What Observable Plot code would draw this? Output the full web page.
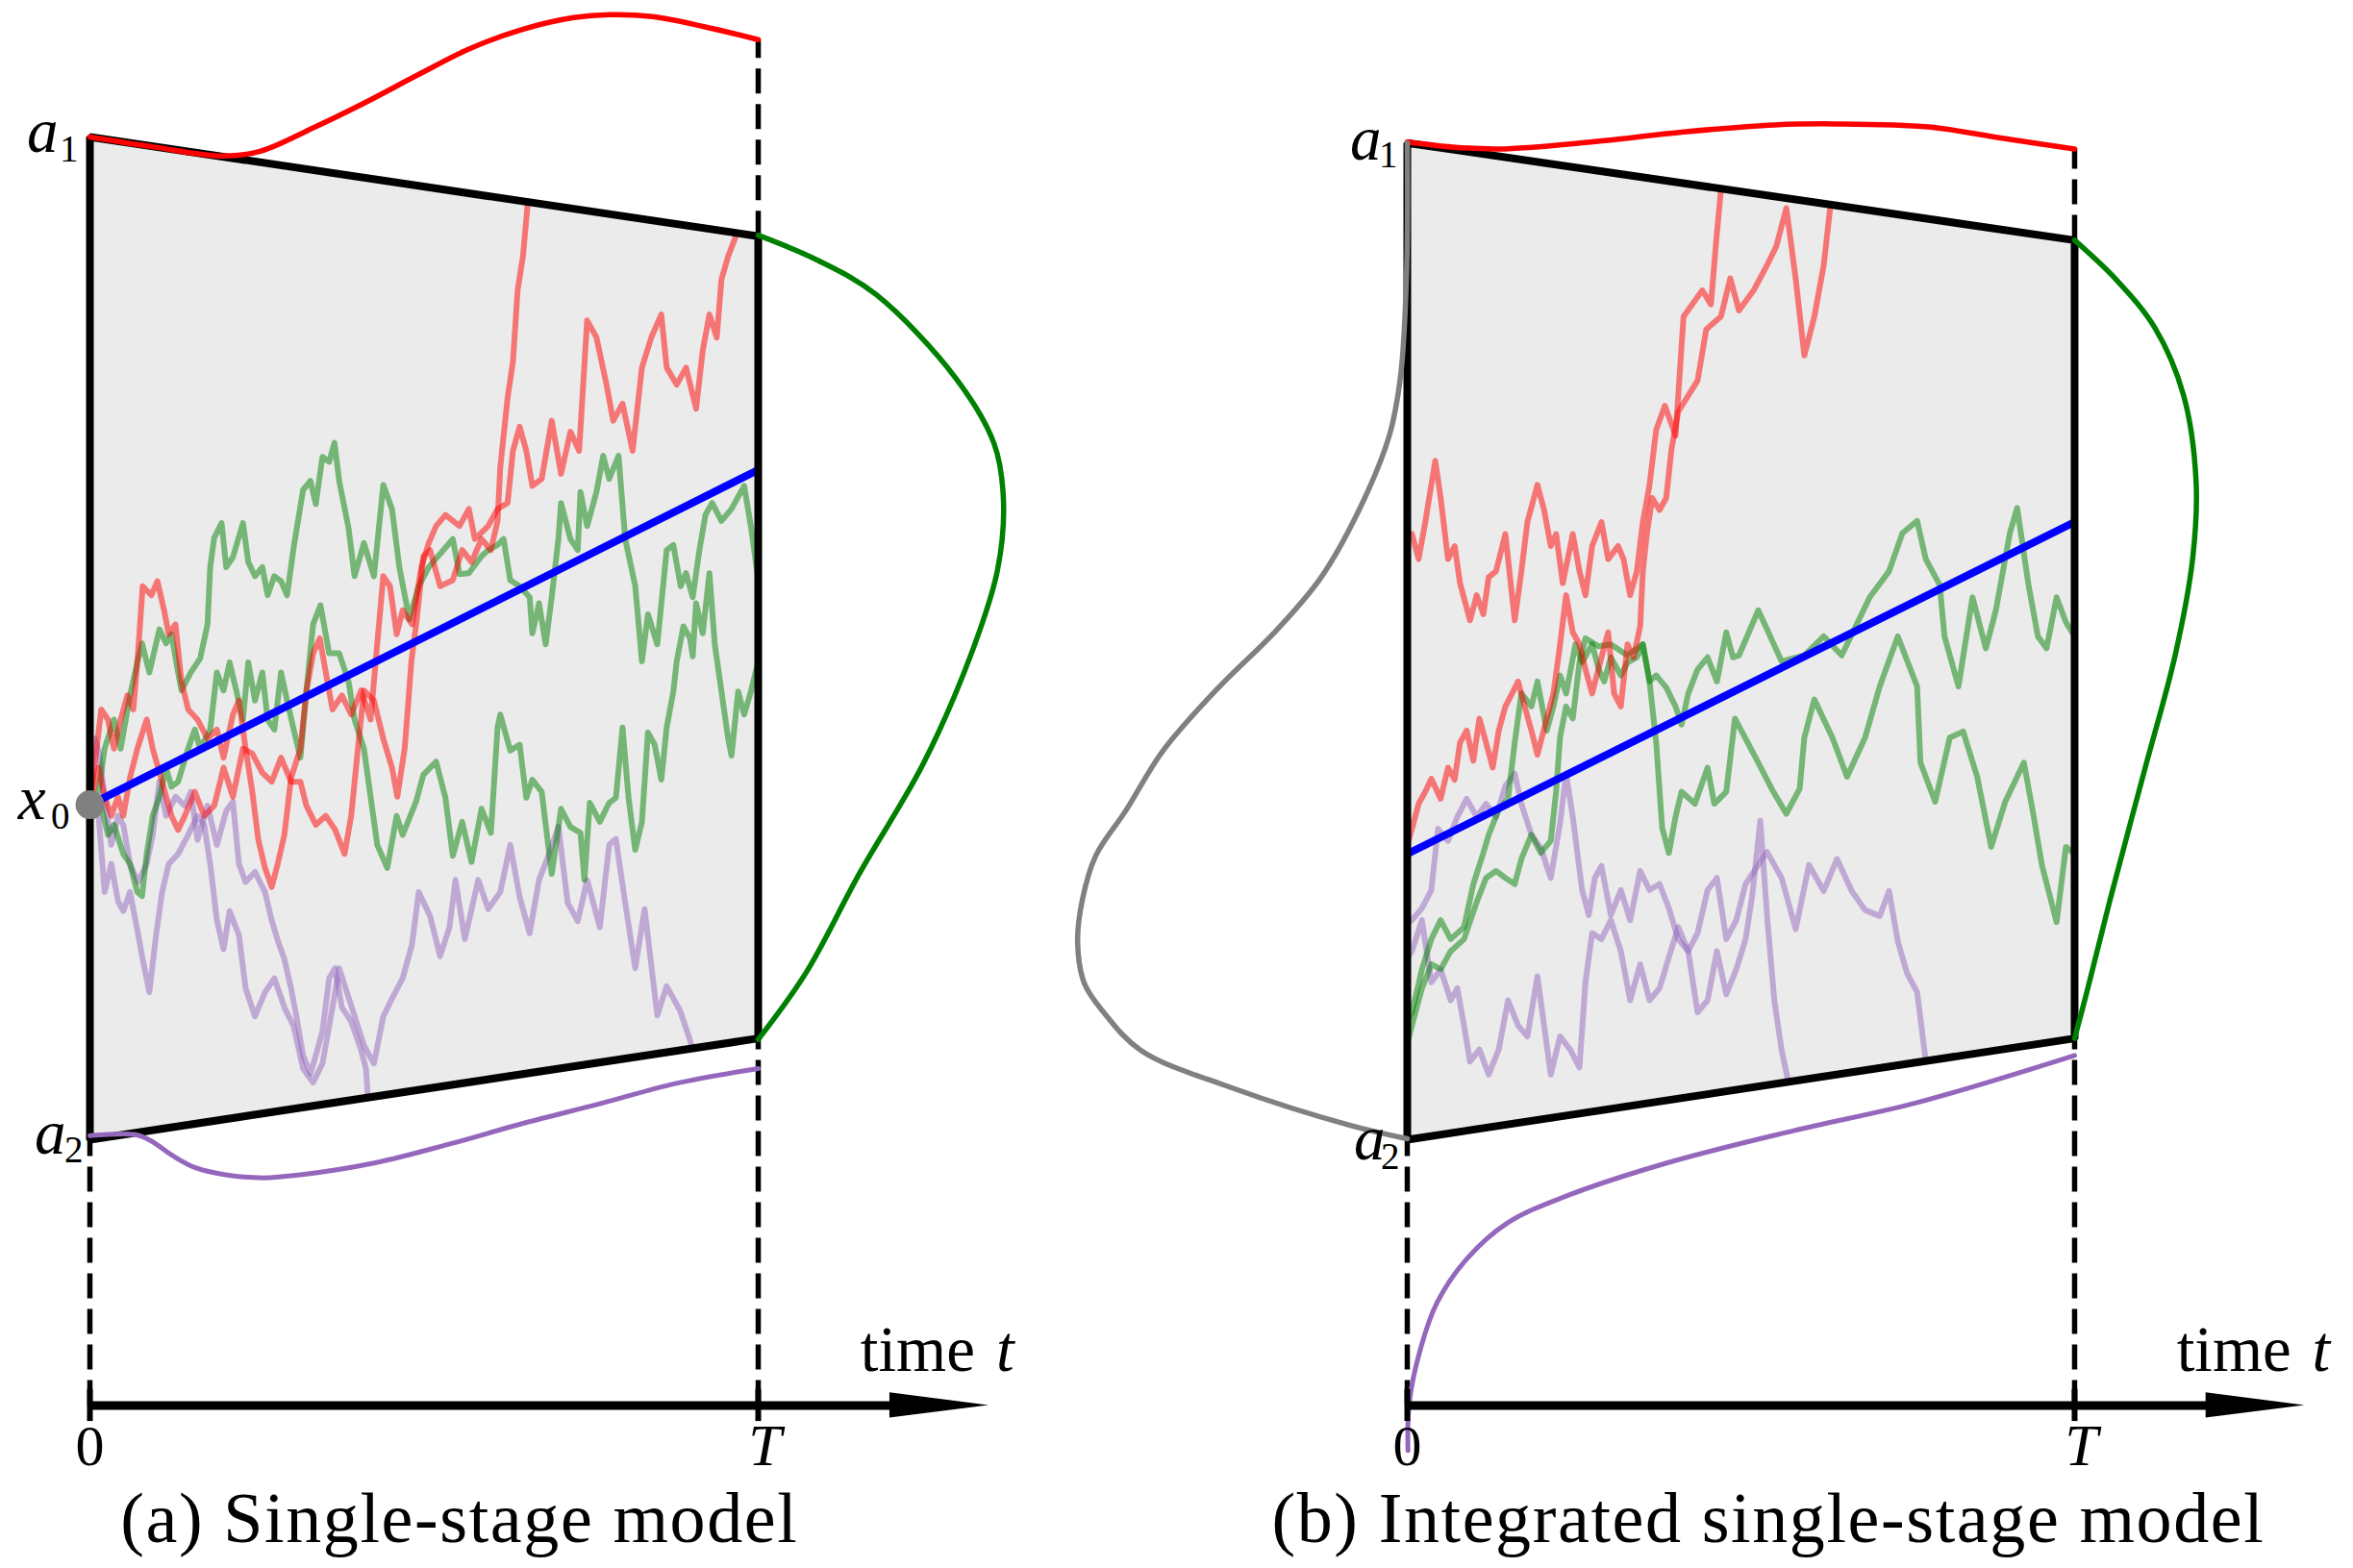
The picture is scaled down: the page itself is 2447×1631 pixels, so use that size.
<!DOCTYPE html>
<html>
<head>
<meta charset="utf-8">
<script src="https://cdn.jsdelivr.net/npm/d3@7"></script>
<script src="https://cdn.jsdelivr.net/npm/@observablehq/plot@0.6"></script>
<style>
  html, body { margin: 0; padding: 0; background: #ffffff; }
  #row { display: flex; width: 2447px; height: 1631px; }
  #row svg { display: block; }
</style>
</head>
<body>
<div id="row"></div>
<script>
// ---------- shared values (time t in % of T, value v in % of a1-a2 span) ----------
const timeTicks = [0, 100];
const timeTickLabels = ["0", "T"];
const axisLevel = -26.5;
const arrowBase = 119.7;
const arrowTip = 134.5;
const tickLabelLevel = -32.5;
const timeLabelLevel = -23.1;
const timeWord = "time";
const timeVar = "t";
const timeWordStart = 115.3;
const timeVarStart = 135.6;
const captionLevel = -40.1;
const captions = ["(a) Single-stage model", "(b) Integrated single-stage model"];
const captionCenters = [55.3, 54.1];

// ---------- panel (a): single-stage model ----------
const boundsA = [{t: 0, lower: 0, upper: 100}, {t: 100, lower: 10.1, upper: 90.1}];
const startA = [{t: 0, v: 33.4}];
const meanA = [[0, 33.4], [100, 66.8]];
const labelsA = [
  {t: 0, v: 100, base: "a", sub: "1"},
  {t: 0, v: 33.4, base: "x", sub: "0"},
  {t: 0, v: 0, base: "a", sub: "2"}
];
const upperExitA = [[0,100.0],[9.6,99.0],[20.1,98.1],[25.6,98.6],[33.4,100.9],[41.1,103.4],[49.1,106.2],[56.8,108.8],[64.6,110.7],[72.4,111.9],[77.8,112.2],[84.2,112.0],[91.9,111.0],[100,109.7]];
const terminalA = [[100,90.2],[108.9,87.7],[117.6,84.3],[129.5,76.0],[135.3,69.4],[136.7,63.7],[135.8,56.8],[131.9,48.5],[124.7,37.5],[115.1,26.5],[107.1,16.6],[100,10.0]];
const lowerExitA = [[0,0.4],[6.8,0.5],[9.1,-0.1],[12.4,-1.6],[15.8,-2.8],[20.3,-3.5],[25.9,-3.8],[31.5,-3.5],[42.7,-2.3],[54.0,-0.4],[65.2,1.7],[76.4,3.6],[87.6,5.6],[100,7.1]];

const redA1 = [[0,33.4],[1.3,37.1],[2.2,34.2],[3.2,32.3],[4.2,34.2],[5.0,32.3],[6.0,36.1],[7.1,39.0],[8.5,41.9],[9.4,39.0],[10.8,35.7],[12.2,32.3],[13.2,30.9],[14.2,32.3],[15.7,34.7],[17.1,32.3],[18.6,33.3],[20.0,37.1],[21.4,34.2],[22.9,39.0],[24.3,38.5],[25.8,36.6],[27.2,35.7],[28.6,38.1],[30.1,35.7],[31.5,35.7],[32.4,33.3],[33.8,31.4],[35.3,32.3],[36.7,30.9],[38.1,28.5],[39.1,32.3],[40.1,39.0],[41.0,44.8],[42.5,43.8],[43.9,40.0],[45.2,37.1],[46.0,34.2],[47.1,39.0],[47.5,42.4],[48.1,47.7],[48.9,51.8],[49.9,58.2],[50.9,58.8],[52.4,55.2],[54.3,55.8],[55.7,58.8],[57.1,57.6],[58.6,59.9],[60.0,58.8],[61.0,61.7],[61.4,67.0],[62.5,74.0],[63.3,77.6],[64.0,84.7],[64.8,88.1],[65.5,93.3]];
const redA2 = [[0,33.4],[1.0,39.0],[1.7,42.9],[2.7,41.9],[3.6,39.0],[4.6,41.9],[5.6,44.3],[6.5,42.9],[7.2,48.5],[7.9,55.2],[9.2,54.3],[10.1,55.7],[11.1,52.8],[11.8,50.4],[12.8,51.4],[13.7,45.7],[14.7,42.9],[16.1,41.9],[17.6,40.0],[19.0,40.9],[20.0,38.1],[21.4,42.4],[22.3,43.8],[23.3,39.0],[24.3,34.7],[25.2,29.9],[26.2,27.1],[27.2,25.2],[28.1,27.5],[29.1,30.4],[30.1,36.1],[31.5,39.0],[32.4,44.8],[33.4,48.5],[34.4,50.0],[35.3,46.6],[36.3,42.9],[37.7,44.3],[39.1,42.4],[40.6,44.8],[42.0,41.9],[43.0,49.5],[43.9,56.2],[44.9,55.2],[45.9,50.4],[46.8,52.8],[48.2,51.4],[49.6,57.1],[50.7,59.5],[51.8,61.2],[53.2,62.3],[55.3,61.2],[56.7,62.9],[57.6,59.9],[59.6,61.2],[61.0,62.9],[62.5,63.5],[63.3,68.7],[64.3,71.1],[65.3,68.7],[66.2,65.2],[67.6,65.9],[69.1,71.7],[70.5,66.4],[71.9,70.6],[73.2,68.7],[74.4,81.7],[75.8,80.0],[77.3,75.3],[78.3,71.7],[79.7,73.4],[81.2,68.7],[82.6,77.0],[84.0,80.0],[85.5,82.3],[86.3,77.0],[87.8,75.3],[89.2,77.0],[90.7,72.9],[91.7,78.7],[92.7,82.3],[93.8,80.0],[94.5,85.8],[95.5,88.1],[96.7,90.2]];
const greenA1 = [[0,33.4],[1.3,34.7],[2.2,39.0],[3.6,41.9],[4.6,39.0],[6.0,44.3],[7.1,47.6],[7.8,49.5],[8.9,46.6],[10.4,50.9],[11.4,49.5],[12.2,50.4],[13.2,46.6],[13.7,44.8],[15.1,46.6],[16.5,48.0],[17.6,51.4],[18.0,57.1],[18.6,60.0],[19.7,61.5],[20.4,57.1],[21.4,58.1],[22.9,61.5],[23.7,57.6],[24.7,56.2],[25.8,57.1],[26.6,54.3],[27.6,56.2],[28.6,55.7],[29.5,54.3],[30.5,59.1],[31.9,64.8],[33.0,65.7],[33.8,63.4],[34.8,68.1],[35.8,67.6],[36.6,69.5],[37.3,65.7],[38.7,61.0],[39.6,56.2],[41.0,59.5],[42.5,56.2],[43.9,65.3],[45.2,62.9],[46.3,57.1],[47.8,51.9],[49.2,55.2],[50.7,57.1],[54.3,59.9],[55.3,56.4],[56.7,56.5],[58.6,58.2],[59.6,58.8],[61.0,59.3],[61.9,59.9],[62.9,55.8],[64.3,55.2],[65.8,54.1],[66.2,50.5],[67.2,53.5],[68.2,49.4],[69.1,54.1],[70.1,59.9],[70.5,63.5],[71.9,59.9],[73.0,58.8],[73.4,64.6],[74.4,61.2],[75.8,64.6],[76.8,68.2],[77.7,65.9],[79.1,68.2],[80.1,59.9],[81.6,55.2],[82.6,47.7],[83.5,52.4],[84.9,49.4],[86.3,58.8],[87.3,59.3],[88.4,55.2],[89.2,56.5],[90.2,54.1],[91.2,58.8],[92.1,62.3],[93.1,63.5],[94.5,61.7],[96.0,62.9],[97.9,65.2],[98.9,61.2],[100,55.8]];
const greenA2 = [[0,33.4],[0.7,32.3],[1.7,33.3],[2.7,30.4],[3.6,31.4],[5.0,28.5],[6.0,27.5],[7.1,24.7],[7.8,24.3],[8.5,28.5],[9.4,32.3],[10.4,34.2],[11.4,37.1],[12.2,35.2],[13.2,35.7],[14.7,39.0],[15.7,40.9],[16.5,39.0],[18.0,40.9],[19.0,46.6],[20.0,44.8],[20.9,47.6],[21.9,44.8],[22.9,41.9],[23.7,47.6],[24.7,43.8],[25.8,46.6],[26.6,41.9],[27.6,40.9],[28.6,46.6],[29.5,43.8],[30.5,40.9],[31.5,38.1],[32.4,44.8],[33.4,51.4],[34.5,53.3],[35.8,48.5],[37.3,48.5],[38.7,45.7],[39.6,41.9],[41.0,39.0],[42.0,34.2],[43.0,29.4],[44.5,27.1],[45.9,32.3],[46.8,30.4],[48.8,33.7],[49.9,36.4],[51.8,37.7],[53.2,34.1],[54.3,28.3],[55.7,31.7],[57.1,27.7],[58.6,33.0],[60.0,30.6],[61.0,41.1],[61.4,42.4],[62.9,38.8],[64.3,39.4],[65.3,34.1],[66.2,35.9],[67.6,34.7],[69.1,26.5],[70.5,33.0],[71.9,31.2],[73.4,30.6],[74.0,25.9],[74.8,33.6],[76.3,31.7],[77.7,33.6],[78.7,34.1],[79.7,41.1],[80.6,34.1],[81.6,28.9],[82.6,31.7],[83.5,40.6],[84.5,39.4],[85.5,35.9],[86.3,41.1],[87.3,44.7],[87.8,47.7],[88.8,51.2],[89.8,50.0],[90.2,48.2],[90.7,53.5],[91.7,50.5],[92.7,56.5],[93.5,49.4],[94.5,44.7],[95.5,40.0],[96.0,38.3],[97.0,44.7],[97.9,42.4],[98.9,44.7],[100,47.7]];
const purpleA1 = [[0,33.4],[0.7,40.0],[1.4,38.5],[2.2,34.2],[3.2,29.4],[4.2,32.3],[5.0,31.4],[6.0,27.5],[7.2,25.7],[8.5,27.5],[9.4,30.4],[10.4,35.7],[11.4,32.3],[12.8,34.2],[14.2,33.3],[15.1,34.7],[16.1,29.9],[17.6,33.3],[19.0,29.4],[20.4,32.8],[21.4,33.7],[22.3,27.5],[23.3,25.7],[24.7,26.7],[26.2,24.7],[27.2,21.9],[28.1,19.9],[29.1,18.0],[30.1,15.1],[30.9,12.3],[31.9,8.4],[33.0,6.6],[33.8,8.4],[34.8,10.8],[35.8,16.1],[36.7,17.1],[37.7,13.2],[39.1,11.8],[40.6,8.9],[41.3,7.1],[41.6,4.2]];
const purpleA2 = [[0,33.4],[1.3,32.3],[2.2,24.7],[3.2,27.5],[4.2,23.8],[5.0,22.8],[6.0,24.7],[7.1,20.9],[7.9,18.0],[8.9,14.7],[9.9,20.4],[10.8,24.7],[11.8,27.5],[13.2,28.5],[14.7,30.4],[16.1,32.3],[17.1,31.4],[18.0,27.5],[19.0,21.9],[20.0,19.0],[20.9,22.8],[22.3,20.4],[23.3,15.1],[24.7,12.3],[26.2,14.7],[27.6,16.1],[29.1,13.2],[30.5,11.3],[31.9,7.1],[33.4,5.7],[34.8,7.6],[36.3,13.2],[37.3,17.1],[38.7,14.2],[40.1,11.3],[41.0,9.4],[42.5,7.6],[43.9,12.3],[45.3,14.2],[46.8,16.1],[48.2,19.5],[49.2,24.7],[50.9,22.3],[52.4,18.3],[53.8,21.2],[54.7,25.9],[56.1,20.0],[58.1,25.9],[59.6,23.0],[61.4,24.7],[62.9,29.4],[64.3,24.2],[65.8,20.6],[67.2,25.9],[68.6,28.3],[70.1,31.2],[71.5,23.6],[73.0,21.8],[74.4,25.9],[76.3,21.2],[77.7,29.4],[78.7,30.0],[80.1,23.6],[81.6,17.1],[83.0,23.0],[84.9,12.4],[86.3,15.3],[88.3,12.9],[90.2,9.1]];

// ---------- panel (b): integrated single-stage model ----------
const boundsB = [{t: 0, lower: 0, upper: 99.4}, {t: 100, lower: 10.1, upper: 89.7}];
const meanB = [[0, 28.5], [100, 61.6]];
const labelsB = [
  {t: 0, v: 99.4, base: "a", sub: "1"},
  {t: 0, v: 0, base: "a", sub: "2"}
];
const upperExitB = [[0,99.5],[6.8,99.0],[13.7,98.8],[27.5,99.5],[41.4,100.5],[55.0,101.2],[64.3,101.3],[78.1,101.0],[88.9,99.9],[100,98.8]];
const terminalB = [[100,89.7],[106.2,85.8],[112.0,81.0],[116.3,74.3],[118.2,65.7],[117.7,58.0],[115.1,48.4],[110.5,36.9],[105.5,24.4],[101.9,14.9],[100,10.1]];
const lowerExitB = [[0.1,-31.0],[0.3,-26.2],[2.0,-20.8],[4.5,-16.2],[8.9,-11.9],[15.0,-8.3],[23.9,-5.6],[39.0,-2.3],[57.9,0.9],[76.4,3.7],[100,8.4]];
const initialB = [[0,99.4],[-0.1,86.5],[-1.0,76.2],[-2.7,70.2],[-7.3,62.7],[-13.0,56.0],[-19.6,50.8],[-28.7,44.8],[-36.6,38.8],[-42.2,32.8],[-46.7,28.3],[-48.7,23.9],[-49.4,19.7],[-48.4,15.6],[-45.5,12.7],[-39.9,8.9],[-26.4,5.2],[-8.4,1.4],[0,0.1]];

const redB1 = [[0,59.9],[0.7,60.4],[1.7,57.9],[2.7,61.6],[3.6,65.3],[4.2,67.7],[5.0,64.0],[6.1,57.9],[7.1,59.2],[7.9,55.5],[9.4,51.8],[10.4,54.3],[11.4,52.4],[12.2,56.1],[13.3,56.7],[14.7,60.4],[16.1,51.8],[17.1,56.7],[18.0,61.6],[19.5,65.3],[20.5,62.8],[21.5,59.2],[22.3,60.4],[23.3,55.5],[24.8,60.4],[25.8,56.7],[26.7,54.3],[27.7,59.2],[29.1,61.6],[30.1,57.9],[31.6,59.2],[32.4,57.9],[33.4,54.3],[34.4,56.7],[35.3,61.6],[36.3,65.3],[37.3,70.8],[38.6,73.2],[40.2,70.2],[41.4,82.1],[44.2,84.7],[45.5,83.3],[46.3,89.7],[47.0,94.7]];
const redB2 = [[0,29.4],[0.7,31.0],[1.7,33.5],[2.7,34.7],[3.6,36.0],[5.0,34.0],[6.1,37.1],[7.1,35.9],[7.9,39.6],[8.9,40.8],[9.9,37.8],[10.8,42.0],[11.8,39.6],[12.8,37.1],[13.7,40.8],[14.7,43.2],[15.7,44.5],[16.6,45.7],[17.6,43.2],[18.6,40.8],[19.5,38.4],[20.9,42.0],[21.9,44.5],[22.9,49.4],[23.8,54.3],[24.8,50.6],[25.8,49.4],[26.7,46.9],[27.7,44.5],[29.1,48.1],[30.1,50.6],[31.0,44.5],[32.0,43.2],[33.0,49.4],[33.9,48.1],[34.9,51.2],[35.3,56.7],[35.9,60.4],[36.7,64.0],[37.8,62.8],[38.8,64.0],[39.6,68.9],[40.6,72.6],[43.5,75.7],[44.8,80.8],[47.0,82.1],[48.4,85.9],[49.7,82.7],[51.9,84.7],[53.9,87.2],[55.3,89.1],[56.8,92.9],[58.2,85.9],[59.5,78.2],[61.0,82.1],[62.4,87.2],[63.4,93.1]];
const greenB1 = [[0,12.0],[0.7,12.7],[2.2,17.0],[3.6,20.0],[5.0,21.9],[6.5,20.0],[8.5,21.2],[9.9,25.5],[11.4,28.6],[12.2,30.4],[13.7,32.9],[15.1,34.0],[16.1,39.6],[17.1,44.5],[18.6,43.2],[19.5,45.7],[20.9,40.8],[21.9,43.2],[22.9,46.3],[23.8,44.5],[25.2,49.4],[26.2,47.6],[27.7,49.4],[28.7,46.9],[29.5,45.7],[30.5,48.1],[32.0,46.3],[33.0,47.6],[34.4,48.1],[35.3,49.4],[36.3,45.7],[37.3,46.3],[38.8,45.1],[40.2,43.2],[41.1,41.4],[42.1,44.5],[43.5,46.9],[45.0,48.1],[46.4,45.7],[47.8,50.6],[48.8,48.1],[49.7,48.3],[52.6,52.8],[53.9,50.9],[56.1,47.7],[59.5,48.3],[62.4,50.2],[65.1,48.3],[69.3,54.1],[72.2,56.7],[74.2,60.5],[76.4,61.7],[77.7,57.9],[79.8,55.3],[80.5,50.2],[82.6,45.2],[84.7,54.1],[86.7,49.0],[88.2,52.8],[90.3,60.5],[91.4,63.0],[93.1,55.3],[94.5,50.2],[95.8,49.0],[97.3,54.1],[98.7,51.6],[100,50.2]];
const greenB2 = [[0,9.6],[0.7,11.4],[2.2,15.1],[3.6,17.5],[5.0,17.0],[6.5,18.8],[8.5,20.0],[10.4,23.7],[11.8,26.1],[13.3,26.8],[14.7,26.1],[16.1,25.5],[17.1,28.0],[18.6,30.4],[20.0,28.6],[21.5,29.8],[22.3,34.7],[22.9,40.2],[23.8,43.2],[24.8,42.0],[25.8,47.6],[26.7,50.0],[28.7,49.2],[30.5,49.4],[33.0,48.3],[35.3,49.4],[36.3,45.7],[37.3,39.6],[38.2,31.1],[39.2,28.6],[40.2,32.2],[41.1,34.7],[43.1,33.5],[45.0,37.1],[46.0,33.5],[47.8,34.7],[49.1,42.0],[52.6,37.6],[54.6,35.0],[56.8,32.5],[58.8,35.0],[59.5,40.1],[61.0,43.9],[63.7,40.1],[65.9,36.2],[68.6,40.1],[70.8,45.2],[73.5,50.2],[76.4,45.2],[76.9,37.6],[79.1,33.7],[81.3,40.1],[83.3,40.7],[85.4,36.2],[87.5,29.2],[89.6,33.7],[92.4,37.6],[93.8,32.5],[95.1,27.4],[97.3,21.7],[98.7,29.2],[100,28.5]];
const purpleB1 = [[0,21.6],[0.7,21.9],[2.2,23.1],[3.6,24.9],[4.6,31.0],[6.1,29.8],[7.5,32.2],[8.9,34.0],[10.4,32.2],[11.8,33.5],[13.3,32.2],[14.7,35.3],[16.1,36.5],[17.1,33.5],[18.6,30.4],[20.0,29.1],[21.5,26.1],[22.9,31.6],[23.8,36.5],[24.8,32.2],[26.2,24.9],[27.2,22.4],[28.1,26.1],[29.1,27.3],[30.5,22.4],[32.0,24.9],[33.4,21.9],[34.9,26.8],[36.3,24.9],[37.8,25.5],[39.2,23.1],[40.6,20.0],[42.1,18.8],[43.5,20.6],[45.0,24.9],[46.4,26.1],[47.8,20.0],[49.3,21.9],[50.7,25.5],[53.9,28.7],[56.1,26.1],[58.2,21.0],[60.2,27.4],[62.4,24.8],[64.4,28.0],[66.6,24.8],[68.6,22.9],[70.8,22.3],[72.2,24.8],[73.5,19.8],[74.9,16.6],[76.4,14.7],[76.9,12.1],[77.7,7.8]];
const purpleB2 = [[0,18.2],[0.7,18.8],[2.2,21.9],[3.6,15.7],[5.0,17.0],[6.5,13.9],[7.5,15.1],[8.5,11.4],[9.4,7.8],[10.8,9.0],[12.2,6.5],[13.7,9.0],[15.1,13.9],[16.6,11.4],[18.0,10.3],[19.5,16.3],[20.5,11.4],[21.5,6.5],[22.9,10.3],[24.4,9.0],[25.8,7.2],[26.7,15.7],[27.7,20.6],[29.1,20.0],[30.5,21.9],[32.0,18.8],[33.4,13.9],[34.9,17.5],[36.3,13.9],[37.8,15.1],[39.2,18.2],[40.6,21.2],[42.1,18.8],[43.5,12.7],[45.0,13.9],[46.4,18.8],[47.8,14.5],[49.3,17.0],[50.7,20.0],[51.7,24.4],[52.9,31.8],[54.0,21.6],[55.0,13.9],[56.1,8.9],[57.1,5.8]];

// ---------- drawing ----------
const FONT = "'Liberation Serif', 'DejaVu Serif', serif";
const RED = "#ff0000", GREEN = "#008000", PURPLE = "#9467bd", GRAY = "#808080";

function panel(spec) {
  const b = spec.bounds;
  const outline = [[0, b[0].lower], [0, b[0].upper], [100, b[1].upper], [100, b[1].lower], [0, b[0].lower], [0, b[0].upper]];
  const topEnd = spec.upperExit[spec.upperExit.length - 1][1];
  const dashes = [
    {t: 0, y1: axisLevel, y2: b[0].lower},
    {t: 100, y1: axisLevel, y2: b[1].lower},
    {t: 100, y1: b[1].upper, y2: topEnd}
  ];
  const arrowHead = [
    {t: arrowBase, lo: axisLevel - 1.25, hi: axisLevel + 1.25},
    {t: arrowTip, lo: axisLevel, hi: axisLevel}
  ];
  const marks = [
    Plot.areaY(b, {x: "t", y1: "lower", y2: "upper", fill: "#ebebeb"})
  ];
  for (const [path, color] of spec.paths) {
    marks.push(Plot.line(path, {stroke: color, strokeOpacity: 0.5, strokeWidth: 6}));
  }
  marks.push(Plot.line(spec.mean, {stroke: "#0000ff", strokeWidth: 8, strokeLinecap: "butt"}));
  marks.push(Plot.ruleX(dashes, {x: "t", y1: "y1", y2: "y2", stroke: "black", strokeWidth: 5.5, strokeDasharray: "26,11"}));
  marks.push(Plot.line(outline, {stroke: "black", strokeWidth: 8, strokeLinejoin: "miter", strokeLinecap: "butt"}));
  // exit / terminal densities
  marks.push(Plot.line(spec.lowerExit, {stroke: PURPLE, strokeWidth: 5, curve: "catmull-rom"}));
  marks.push(Plot.line(spec.upperExit, {stroke: RED, strokeWidth: 5.5, curve: "catmull-rom"}));
  marks.push(Plot.line(spec.terminal, {stroke: GREEN, strokeWidth: 5.5, curve: "catmull-rom"}));
  if (spec.initial) marks.push(Plot.line(spec.initial, {stroke: GRAY, strokeWidth: 5.5, curve: "catmull-rom"}));
  // time axis
  marks.push(Plot.ruleY([axisLevel], {x1: 0, x2: arrowBase + 1, stroke: "black", strokeWidth: 9}));
  marks.push(Plot.areaY(arrowHead, {x: "t", y1: "lo", y2: "hi", fill: "black"}));
  marks.push(Plot.ruleX(timeTicks, {y1: axisLevel - 1.6, y2: axisLevel + 1.6, stroke: "black", strokeWidth: 6}));
  marks.push(Plot.text([timeTicks[0]], {x: d => d, y: tickLabelLevel, text: () => timeTickLabels[0], fontSize: 60, fontFamily: FONT, lineAnchor: "bottom", textAnchor: "middle"}));
  marks.push(Plot.text([timeTicks[1]], {x: d => d, y: tickLabelLevel, text: () => timeTickLabels[1], fontSize: 62, fontStyle: "italic", fontFamily: FONT, lineAnchor: "bottom", textAnchor: "middle", dx: 7}));
  marks.push(Plot.text([timeWordStart], {x: d => d, y: timeLabelLevel, text: () => timeWord, fontSize: 67, fontFamily: FONT, lineAnchor: "bottom", textAnchor: "start"}));
  marks.push(Plot.text([timeVarStart], {x: d => d, y: timeLabelLevel, text: () => timeVar, fontSize: 67, fontStyle: "italic", fontFamily: FONT, lineAnchor: "bottom", textAnchor: "start"}));
  if (spec.start) marks.push(Plot.dot(spec.start, {x: "t", y: "v", r: 15, fill: GRAY, stroke: "none"}));
  // boundary / start labels
  spec.labels.forEach((lab, i) => {
    const [dxm, dym, dxs, dys] = spec.labelOffsets[i];
    marks.push(Plot.text([lab], {x: "t", y: "v", text: "base", fontSize: 65, fontStyle: "italic", fontFamily: FONT, textAnchor: "end", lineAnchor: "bottom", dx: dxm, dy: dym}));
    marks.push(Plot.text([lab], {x: "t", y: "v", text: "sub", fontSize: 39, fontFamily: FONT, textAnchor: "end", lineAnchor: "bottom", dx: dxs, dy: dys}));
  });
  marks.push(Plot.text([spec.caption], {x: spec.captionCenter, y: captionLevel, text: d => d, fontSize: 74, fontFamily: FONT, lineAnchor: "bottom", textAnchor: "middle"}));

  const svg = Plot.plot({
    width: spec.width,
    height: 1631,
    margin: 0,
    x: {domain: spec.xDomain, axis: null},
    y: {domain: [-42.76, 113.61], axis: null},
    style: {background: "transparent", overflow: "visible", fontFamily: FONT},
    marks
  });
  svg.querySelectorAll("text").forEach(el => {
    if (captions.includes(el.textContent)) el.style.letterSpacing = "1.6px";
  });
  return svg;
}

const row = document.getElementById("row");
row.appendChild(panel({
  width: 1224,
  xDomain: [-13.38, 162.73],
  bounds: boundsA,
  mean: meanA,
  start: startA,
  paths: [[purpleA1, PURPLE], [purpleA2, PURPLE], [greenA1, GREEN], [greenA2, GREEN], [redA1, RED], [redA2, RED]],
  upperExit: upperExitA,
  terminal: terminalA,
  lowerExit: lowerExitA,
  labels: labelsA,
  labelOffsets: [[-33, 16, -12, 26], [-46, 15, -21, 25], [-25, 15, -7, 24]],
  caption: captions[0],
  captionCenter: captionCenters[0]
}));
row.appendChild(panel({
  width: 1223,
  xDomain: [-34.44, 141.79],
  bounds: boundsB,
  mean: meanB,
  paths: [[purpleB1, PURPLE], [purpleB2, PURPLE], [greenB1, GREEN], [greenB2, GREEN], [redB1, RED], [redB2, RED]],
  upperExit: upperExitB,
  terminal: terminalB,
  lowerExit: lowerExitB,
  initial: initialB,
  labels: labelsB,
  labelOffsets: [[-27, 17, -10, 25], [-23, 21, -8, 31]],
  caption: captions[1],
  captionCenter: captionCenters[1]
}));
</script>
</body>
</html>
